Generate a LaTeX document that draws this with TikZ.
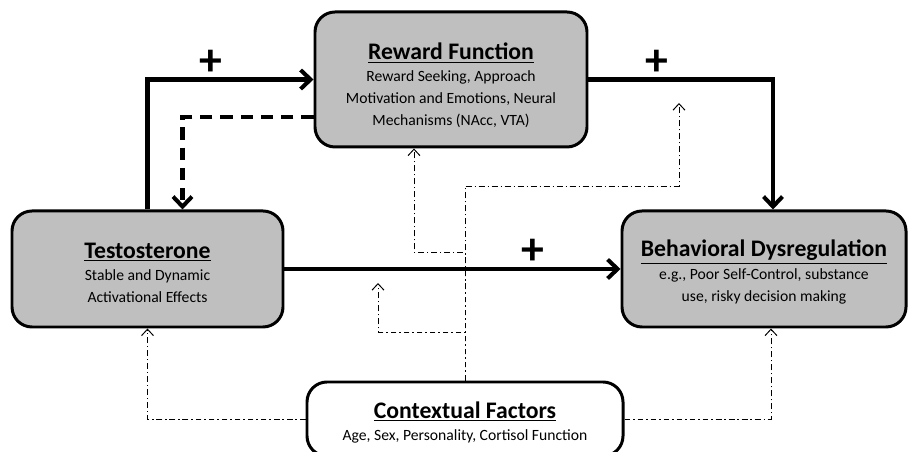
\documentclass[tikz,border=0pt]{standalone}
\usepackage{fontspec}
\setmainfont{Carlito}
\usepackage{tikz}
\usetikzlibrary{arrows.meta,positioning,calc}

\newcommand{\boxtitle}[2][13pt]{{\fontsize{13.5}{15}\selectfont\bfseries\rule{0pt}{#1}\underline{#2}}}

\begin{document}
\begin{tikzpicture}[
  font=\fontsize{8.9}{12.6}\selectfont,
  mainbox/.style={draw, line width=1.7pt, rounded corners=0.4cm, fill=black!25, align=center, inner sep=2pt},
  ctxbox/.style={draw, line width=1.7pt, rounded corners=0.4cm, fill=white, align=center, inner sep=2pt},
  effect/.style={-{Straight Barb[length=2mm, width=3.8mm]}, line width=2.3pt},
  feedback/.style={-{Straight Barb[length=2mm, width=3.8mm]}, line width=2.3pt, dash pattern=on 7pt off 4.5pt},
  moder/.style={-{Straight Barb[length=1.3mm, width=2.4mm]}, line width=0.55pt, dash pattern=on 3.4pt off 1.7pt on 0.6pt off 1.7pt},
  sgn/.style={font=\fontsize{26}{26}\selectfont\bfseries, yshift=0.34cm}]
\useasboundingbox (0,0) rectangle (18.18,9.04);
\node[mainbox, minimum width=5.44cm, minimum height=2.7cm] (R) at (9.02,7.45)
  {\boxtitle[16pt]{Reward Function}\\ Reward Seeking, Approach\\ Motivation and Emotions, Neural\\ Mechanisms (NAcc, VTA)};
\node[mainbox, minimum width=5.42cm, minimum height=2.32cm] (T) at (2.95,3.66)
  {\boxtitle{Testosterone}\\ Stable and Dynamic\\ Activational Effects};
\node[mainbox, minimum width=5.68cm, minimum height=2.32cm] (B) at (15.28,3.66)
  {\boxtitle{Behavioral Dysregulation}\\ e.g., Poor Self-Control, substance\\ use, risky decision making};
\node[ctxbox, minimum width=6.32cm, minimum height=1.48cm] (C) at (9.30,0.66)
  {\boxtitle{Contextual Factors}\\ Age, Sex, Personality, Cortisol Function};
\coordinate (m1) at (13.58,6.98);
\coordinate (m2) at (7.56,3.38);
% main paths
\draw[effect] (T.north) |- node[sgn, pos=0.69]{+} (R.west);
\draw[effect] (R.east) -| node[sgn, pos=0.185]{+} ([xshift=0.18cm]B.north);
\draw[effect] (T.east) -- node[sgn, pos=0.74]{+} (B.west);
\draw[feedback] ([yshift=-0.75cm]R.west) -| ([xshift=0.7cm]T.north);
% contextual moderation
\draw[moder] (C.west) -| (T.south);
\draw[moder] (C.east) -| ([xshift=0.14cm]B.south);
\draw[moder] (C.north) |- ([yshift=-1.66cm]m1) -- (m1);
\draw[moder] (C.north) |- ([xshift=-0.74cm, yshift=-2.08cm]R.south) -- ([xshift=-0.74cm]R.south);
\draw[moder] (C.north) |- ([yshift=-0.98cm]m2) -- (m2);
\end{tikzpicture}
\end{document}
